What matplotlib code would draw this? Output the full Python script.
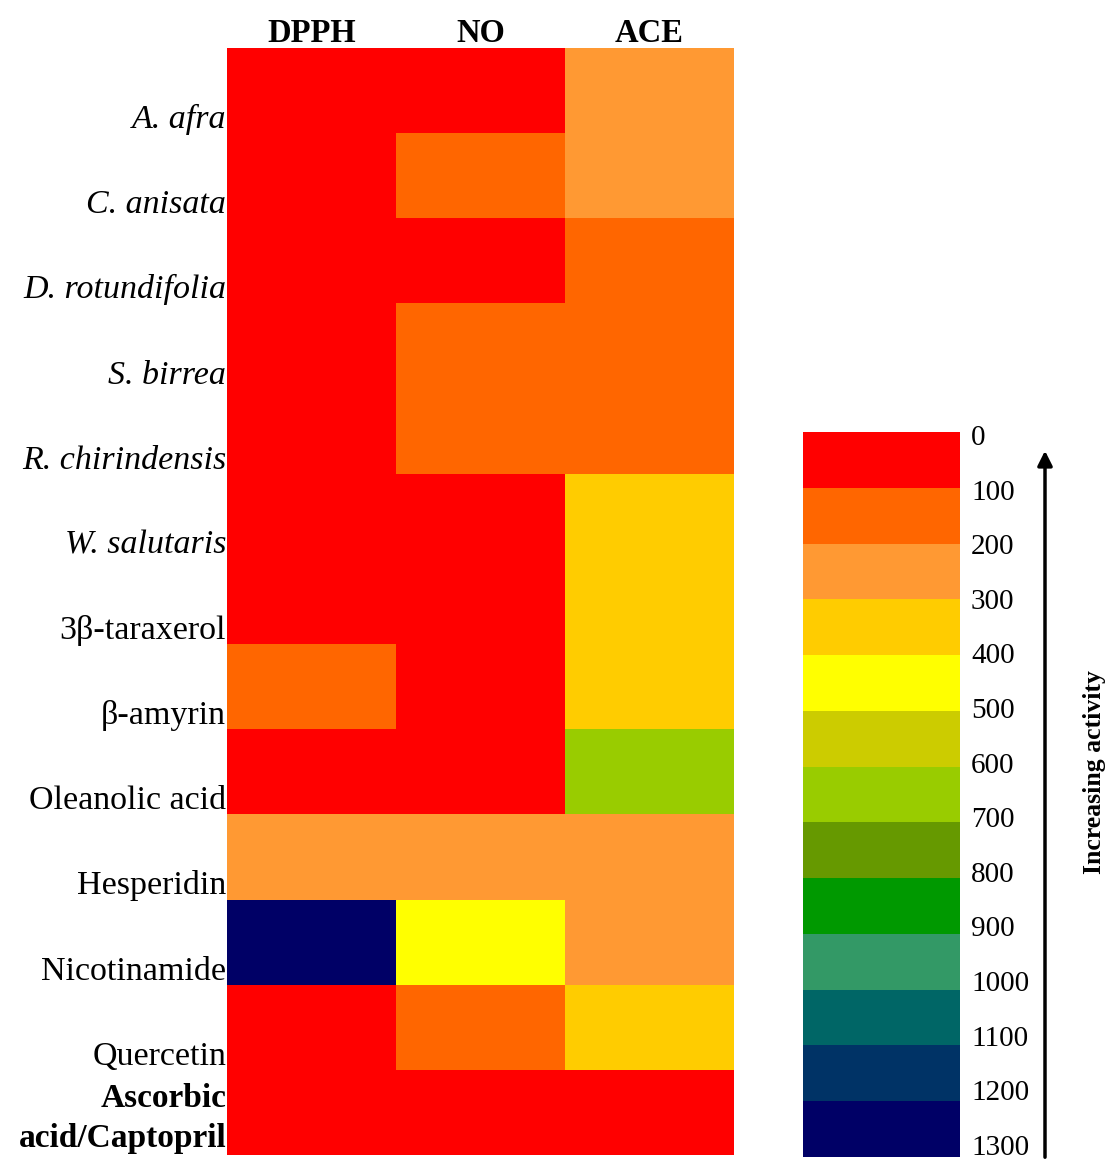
import matplotlib
matplotlib.use("Agg")
from matplotlib import pyplot as plt
from matplotlib.colors import ListedColormap, BoundaryNorm
from matplotlib.patches import FancyArrowPatch
import numpy as np

plt.rcParams['font.family'] = ['Liberation Serif', 'DejaVu Serif']

samples = ["A. afra", "C. anisata", "D. rotundifolia", "S. birrea", "R. chirindensis",
           "W. salutaris", "3\u03b2-taraxerol", "\u03b2-amyrin", "Oleanolic acid",
           "Hesperidin", "Nicotinamide", "Quercetin", "Ascorbic\nacid/Captopril"]
label_styles = ["italic"] * 6 + ["normal"] * 7
assays = ["DPPH", "NO", "ACE"]

# IC50-type values per sample, binned in steps of 100
dpph = [50, 50, 50, 50, 50, 50, 50, 150, 50, 250, 1250, 50, 50]
no = [50, 150, 50, 150, 150, 50, 50, 50, 50, 250, 450, 150, 50]
ace = [250, 250, 150, 150, 150, 350, 350, 350, 650, 250, 250, 350, 50]

bin_edges = list(range(0, 1400, 100))
bin_colors = ["#FF0000", "#FF6600", "#FF9933", "#FFCC00", "#FFFF00", "#CCCC00",
              "#99CC00", "#669900", "#009900", "#339966", "#006666", "#003366",
              "#000066"]

cmap = ListedColormap(bin_colors)
norm = BoundaryNorm(bin_edges, cmap.N)

W, H = 1107, 1160
fig = plt.figure(figsize=(W / 100, H / 100), dpi=100)

# main heatmap
ax = fig.add_axes([227 / W, 1 - 1155 / H, 507 / W, 1107 / H])
data = np.array([dpph, no, ace]).T
ax.pcolormesh(np.arange(4), np.arange(14), data, cmap=cmap, norm=norm)
ax.set_xlim(0, 3)
ax.set_ylim(13, 0)
ax.axis("off")

for j, name in enumerate(assays):
    ax.text(j + 0.5, -0.07, name, ha="center", va="baseline",
            fontsize=23.5, fontweight="bold")

for i, (name, st) in enumerate(zip(samples, label_styles)):
    if "\n" in name:
        ax.text(-0.005, i + 0.91, name, ha="right", va="baseline", fontsize=24,
                fontweight="bold", linespacing=1.4, multialignment="right")
    else:
        ax.text(-0.005, i + 0.94, name, ha="right", va="baseline", fontsize=24.5,
                style=st)

# colour key
cax = fig.add_axes([803 / W, 1 - 1157 / H, 157 / W, 725 / H])
mids = np.array(bin_edges[:-1]) + 50
cax.pcolormesh([0, 1], bin_edges, mids.reshape(-1, 1), cmap=cmap, norm=norm)
cax.set_xlim(0, 1)
cax.set_ylim(1300, 0)
cax.axis("off")
for v in bin_edges:
    # labels run a little tighter than the bands
    ypos = 1 - (6 + v / 100 * 54.6) / 725
    cax.text(1.07, ypos, str(v), ha="left", va="center", fontsize=21,
             transform=cax.transAxes)

# arrow and label
arr = FancyArrowPatch((1045 / W, 1 - 1160 / H), (1045 / W, 1 - 448 / H),
                      transform=fig.transFigure, arrowstyle="-|>",
                      mutation_scale=22, lw=2.5, color="black")
fig.patches.append(arr)
fig.text(1095 / W, 1 - 772 / H, "Increasing activity", rotation=90,
         ha="center", va="center", fontsize=18.5, fontweight="bold")

fig.savefig("out.png", dpi=100)
